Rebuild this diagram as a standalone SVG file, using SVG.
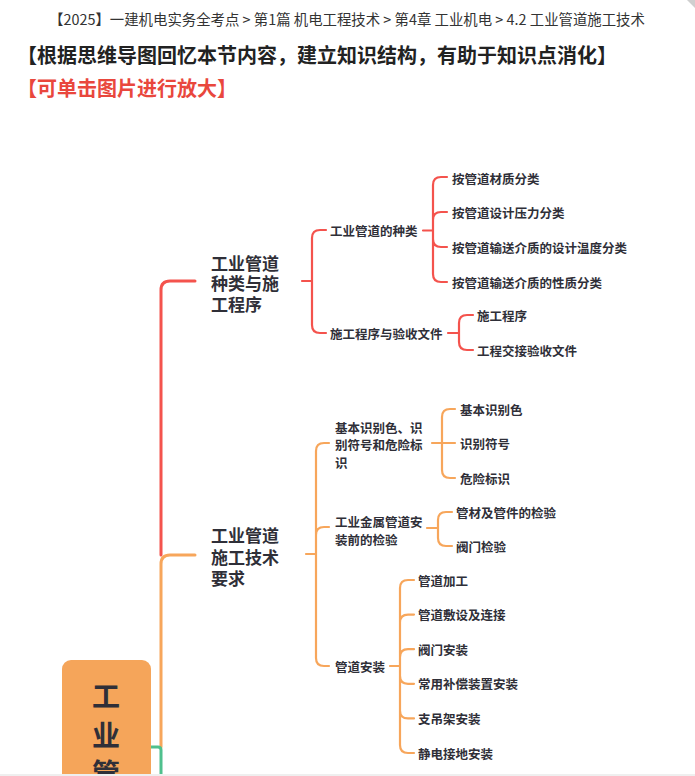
<svg xmlns="http://www.w3.org/2000/svg" width="695" height="776" viewBox="0 0 695 776">
<style>
text{font-family:"Noto Sans CJK SC","Noto Sans",sans-serif;fill:#2f2f38;dominant-baseline:central}
.hdr{font-size:14.4px;fill:#333}
.ttl{font-size:20px;font-weight:bold;fill:#222}
.red{font-size:20px;font-weight:bold;fill:#e9473d}
.main{font-size:17px;font-weight:bold}
.sub{font-size:12.5px;font-weight:bold}
.leaf{font-size:12.5px;font-weight:bold}
.root{font-size:28px;font-weight:bold;text-anchor:middle}
.r{fill:none;stroke:#f4534d;stroke-linecap:round}
.o{fill:none;stroke:#f7a65b;stroke-linecap:round}
.g{fill:none;stroke:#4fc08d}
.t{stroke-width:3}
.s{stroke-width:2.2}
</style>
<rect x="0" y="0" width="695" height="776" fill="#fff"/>
<path d="M687,0 H695 V8 Z" fill="#cfcfcf"/>
<text class="hdr" x="347" y="18" text-anchor="middle">【2025】一建机电实务全考点 &gt; 第1篇 机电工程技术 &gt; 第4章 工业机电 &gt; 4.2 工业管道施工技术</text>
<text class="ttl" x="17" y="54">【根据思维导图回忆本节内容，建立知识结构，有助于知识点消化】</text>
<text class="red" x="17" y="87">【可单击图片进行放大】</text>

<g id="connectors">
<path class="r t" d="M161,555 V290 Q161,281 170,281 H195"/>
<path class="o t" d="M161,747 V564 Q161,555 170,555 H195"/>
<path class="g t" d="M150,747 H158 Q161,747 161,750 V776"/>
<!-- branch 1 -->
<path class="r s" d="M302,281 H312 M312,281 V238 Q312,230 320,230 H326 M312,281 V325 Q312,333 320,333 H326"/>
<path class="r s" d="M423,230.5 H433 M433,230.5 V185 Q433,177 441,177 H447 M433,230.5 V220 Q433,212 441,212 H447 M433,230.5 V239 Q433,247 441,247 H447 M433,230.5 V274 Q433,282 441,282 H447"/>
<path class="r s" d="M448,333 H459 M459,333 V323 Q459,315 467,315 H473 M459,333 V342 Q459,350 467,350 H473"/>
<!-- branch 2 -->
<path class="o s" d="M306,554 H316 M316,554 V451 Q316,443 324,443 H329 M316,554 V535 Q316,527 324,527 H329 M316,554 V658 Q316,666 324,666 H329"/>
<path class="o s" d="M432,443 H442 M442,443 V417 Q442,409 450,409 H455 M442,443 H455 M442,443 V470 Q442,478 450,478 H455"/>
<path class="o s" d="M427,528 H438 M438,528 V520 Q438,512 446,512 H452 M438,528 V538 Q438,546 446,546 H452"/>
<path class="o s" d="M390,666 H400 M400,666 V588 Q400,580 408,580 H414 M400,666 V622.6 Q400,614.6 408,614.6 H414 M400,666 V657.2 Q400,649.2 408,649.2 H414 M400,666 V675.8 Q400,683.8 408,683.8 H414 M400,666 V710.4 Q400,718.4 408,718.4 H414 M400,666 V745 Q400,753 408,753 H414"/>
</g>

<g id="root">
<rect x="62" y="660" width="89" height="140" rx="9" fill="#f5a55a"/>
<text class="root" x="106" y="695">工</text>
<text class="root" x="106" y="734">业</text>
<text class="root" x="106" y="772">管</text>
</g>

<g id="b1">
<text class="main" x="211" y="262">工业管道</text>
<text class="main" x="211" y="282.5">种类与施</text>
<text class="main" x="211" y="303">工程序</text>
</g>
<g id="b1-1"><text class="sub" x="330" y="230">工业管道的种类</text></g>
<g id="b1-1-1"><text class="leaf" x="452" y="178">按管道材质分类</text></g>
<g id="b1-1-2"><text class="leaf" x="452" y="212.5">按管道设计压力分类</text></g>
<g id="b1-1-3"><text class="leaf" x="452" y="247.5">按管道输送介质的设计温度分类</text></g>
<g id="b1-1-4"><text class="leaf" x="452" y="282.5">按管道输送介质的性质分类</text></g>
<g id="b1-2"><text class="sub" x="330" y="333">施工程序与验收文件</text></g>
<g id="b1-2-1"><text class="leaf" x="477" y="315">施工程序</text></g>
<g id="b1-2-2"><text class="leaf" x="477" y="350">工程交接验收文件</text></g>

<g id="b2">
<text class="main" x="211" y="534">工业管道</text>
<text class="main" x="211" y="556">施工技术</text>
<text class="main" x="211" y="577">要求</text>
</g>
<g id="b2-1">
<text class="sub" x="335" y="427">基本识别色、识</text>
<text class="sub" x="335" y="444.5">别符号和危险标</text>
<text class="sub" x="335" y="462">识</text>
</g>
<g id="b2-1-1"><text class="leaf" x="460" y="409">基本识别色</text></g>
<g id="b2-1-2"><text class="leaf" x="460" y="443.5">识别符号</text></g>
<g id="b2-1-3"><text class="leaf" x="460" y="478">危险标识</text></g>
<g id="b2-2">
<text class="sub" x="335" y="521.5">工业金属管道安</text>
<text class="sub" x="335" y="539">装前的检验</text>
</g>
<g id="b2-2-1"><text class="leaf" x="456" y="512">管材及管件的检验</text></g>
<g id="b2-2-2"><text class="leaf" x="456" y="546.5">阀门检验</text></g>
<g id="b2-3"><text class="sub" x="335" y="666">管道安装</text></g>
<g id="b2-3-1"><text class="leaf" x="418" y="580">管道加工</text></g>
<g id="b2-3-2"><text class="leaf" x="418" y="614.6">管道敷设及连接</text></g>
<g id="b2-3-3"><text class="leaf" x="418" y="649.2">阀门安装</text></g>
<g id="b2-3-4"><text class="leaf" x="418" y="683.8">常用补偿装置安装</text></g>
<g id="b2-3-5"><text class="leaf" x="418" y="718.4">支吊架安装</text></g>
<g id="b2-3-6"><text class="leaf" x="418" y="753">静电接地安装</text></g>

<rect x="0" y="774" width="695" height="2" fill="#efefef"/>
</svg>
